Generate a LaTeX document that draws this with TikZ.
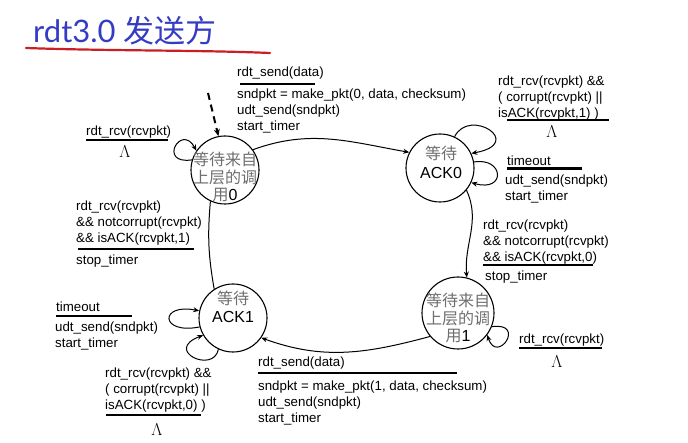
\documentclass[tikz,border=0pt]{standalone}
\usepackage{fontspec}
\setmainfont{Liberation Sans}
\newfontfamily\cjk{Noto Sans CJK SC}
\newfontfamily\titlefont{Lato}
\usetikzlibrary{arrows.meta}
\definecolor{titleblue}{RGB}{52,60,196}
\definecolor{penred}{RGB}{200,30,36}
\definecolor{stategray}{RGB}{110,110,110}
\newcommand{\zh}[1]{{\cjk\color{stategray}#1}}
\tikzset{
  state/.style={draw, circle, line width=1.1pt, minimum size=68pt, inner sep=0pt},
  statetext/.style={align=center, inner sep=0pt, font=\fontsize{16}{17.5}\selectfont},
  lbl/.style={align=left, inner sep=0pt, font=\fontsize{13.3}{16}\selectfont},
  lam/.style={inner sep=0pt, font=\fontsize{17}{18}\selectfont},
  bar/.style={line width=2.2pt},
  plain/.style={line width=1pt},
  trans/.style={plain, -{Stealth[length=6pt,width=5pt]}},
  initarr/.style={line width=2pt, dash pattern=on 7pt off 5pt, -{Stealth[length=7pt,width=6pt]}},
}
\begin{document}
\begin{tikzpicture}[x=1pt,y=1pt]
\useasboundingbox (0,0) rectangle (688,442);
\node[anchor=base west, inner sep=0pt, text=titleblue] (title) at (33,399) {\fontsize{31}{34}\selectfont\titlefont rdt3.0 \cjk\fontsize{31}{34}\selectfont 发送方};
\draw[penred, line width=2.2pt, line cap=round] (26,394) .. controls (110,391) and (200,392) .. (270,389);

\node[state] (s0) at (225,272) {};
\node[state] (ack0) at (440,274) {};
\node[state] (ack1) at (233,124) {};
\node[state, minimum size=72pt] (s1) at (458,129) {};
\node[statetext] (s0txt) at (225,265) {\zh{等待来自}\\\zh{上层的调}\\\zh{用}0};
\node[statetext, font=\fontsize{16}{19}\selectfont] (ack0txt) at (441,279.5) {\zh{等待}\\ACK0};
\node[statetext, font=\fontsize{16}{18}\selectfont] (ack1txt) at (233,135) {\zh{等待}\\ACK1};
\node[statetext] (s1txt) at (458,124) {\zh{等待来自}\\\zh{上层的调}\\\zh{用}1};

\coordinate (init) at (208,349);
\draw[initarr] (init) -- (s0.101);
\draw[trans] (s0.36) to[out=20,in=170] (ack0.153);
\draw[trans] (ack0.-40) to[out=-65,in=95] (s1.76);
\draw[trans] (s1.220) to[out=195,in=-20] (ack1.-35);
\draw[plain] (ack1.123) to[out=100,in=-95] (s0.245);

\draw[trans] (s0.163) .. controls +(-35,-5) and +(-15,28) .. (s0.146);
\draw[trans] (ack0.65) .. controls +(15,30) and +(55,10) .. (ack0.25);
\draw[trans] (ack0.10) .. controls +(30,5) and +(35,-10) .. (ack0.-25);
\draw[trans] (ack1.195) .. controls +(-40,-8) and +(-40,8) .. (ack1.168);
\draw[trans] (ack1.245) .. controls +(-5,-25) and +(-40,-15) .. (ack1.210);
\draw[trans] (s1.-22) .. controls +(35,5) and +(10,-30) .. (s1.-37);

\node[lbl, anchor=base west] (ev01) at (237,365) {rdt\_send(data)};
\draw[bar] (240,358) -- (315,358);
\node[lbl, anchor=north west] (ac01) at (237,353.5) {sndpkt = make\_pkt(0, data, checksum)\\udt\_send(sndpkt)\\start\_timer};

\node[lbl, anchor=north west] (evack0) at (498,366.5) {rdt\_rcv(rcvpkt) \&\&\\( corrupt(rcvpkt) ||\\isACK(rcvpkt,1) )};
\draw[bar] (507,322) -- (609,322);
\node[lam] (lamack0) at (552,310) {$\Lambda$};

\node[lbl, anchor=base west] (toack0) at (507,276.5) {timeout};
\draw[bar] (507,273.5) -- (582,273.5);
\node[lbl, anchor=north west] (reack0) at (505,267.5) {udt\_send(sndpkt)\\start\_timer};

\node[lbl, anchor=north west] (ev0s1) at (483,222.5) {rdt\_rcv(rcvpkt)\\\&\& notcorrupt(rcvpkt)\\\&\& isACK(rcvpkt,0)};
\draw[bar] (483,177) -- (593,177);
\node[lbl, anchor=base west] (st0s1) at (485,161) {stop\_timer};

\node[lbl, anchor=base west] (evs1) at (519,99) {rdt\_rcv(rcvpkt)};
\draw[bar] (519,94) -- (602,94);
\node[lam] (lams1) at (557,80) {$\Lambda$};

\node[lbl, anchor=base west] (ev11) at (258,75) {rdt\_send(data)};
\draw[bar] (258,69) -- (457,69);
\node[lbl, anchor=north west] (ac11) at (258,61.5) {sndpkt = make\_pkt(1, data, checksum)\\udt\_send(sndpkt)\\start\_timer};

\node[lbl, anchor=base west] (toack1) at (56,130) {timeout};
\draw[bar] (56,126) -- (132,126);
\node[lbl, anchor=north west] (reack1) at (55,120.5) {udt\_send(sndpkt)\\start\_timer};

\node[lbl, anchor=north west] (evack1) at (105,74.5) {rdt\_rcv(rcvpkt) \&\&\\( corrupt(rcvpkt) ||\\isACK(rcvpkt,0) )};
\draw[bar] (106,27) -- (201,27);
\node[lam] (lamack1) at (157,12) {$\Lambda$};

\node[lbl, anchor=north west] (ev1s0) at (76,241.5) {rdt\_rcv(rcvpkt)\\\&\& notcorrupt(rcvpkt)\\\&\& isACK(rcvpkt,1)};
\draw[bar] (78,193) -- (194,193);
\node[lbl, anchor=base west] (st1s0) at (76,177) {stop\_timer};

\node[lbl, anchor=base west] (evs0) at (86,306) {rdt\_rcv(rcvpkt)};
\draw[bar] (86,302) -- (168,302);
\node[lam] (lams0) at (125,290) {$\Lambda$};
\end{tikzpicture}
\end{document}
